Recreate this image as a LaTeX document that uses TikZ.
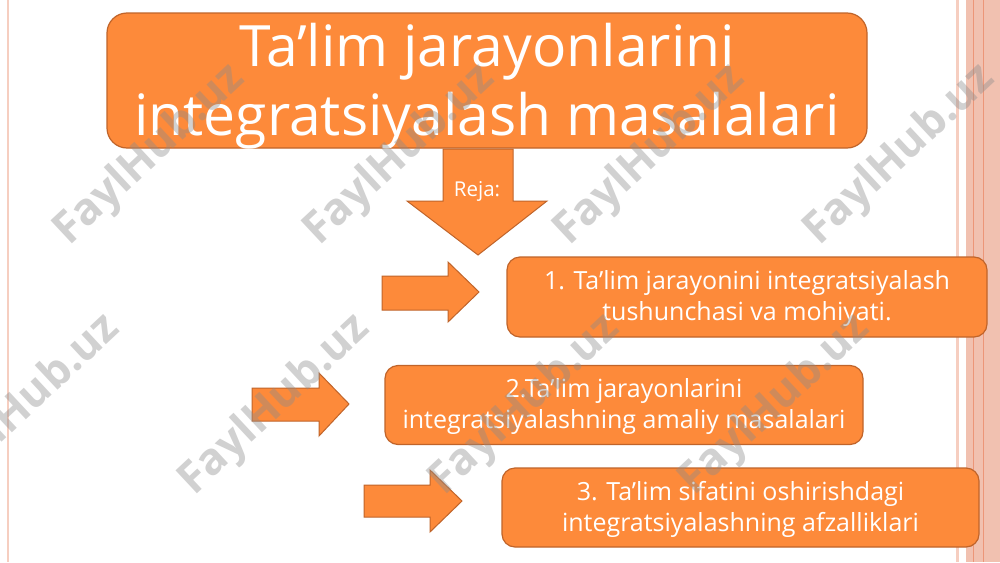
\documentclass[tikz,border=0pt]{standalone}
\usepackage{fontspec}
\setmainfont{Open Sans}
\definecolor{boxfill}{RGB}{253,138,58}
\definecolor{boxedge}{RGB}{192,100,42}
\definecolor{stripfill}{RGB}{241,193,176}
\definecolor{stripline}{RGB}{236,150,120}
\definecolor{lightstrip}{RGB}{246,206,192}
\definecolor{wmark}{RGB}{140,140,140}
\begin{document}
\begin{tikzpicture}[x=1pt,y=-1pt,
  box/.style={draw=boxedge, fill=boxfill, line width=1.2pt, rounded corners=13pt,
    text=white, align=center, inner sep=0pt, font=\fontsize{25}{31}\selectfont},
  blockarrow/.style={draw=boxedge, fill=boxfill, line width=1pt, line join=miter},
  wm/.style={text=wmark, text opacity=0.4, rotate=43, font=\bfseries\fontsize{44}{44}\selectfont, inner sep=0pt}]
\useasboundingbox (0,0) rectangle (1000,562);
\fill[white] (0,0) rectangle (1000,562);
% right decoration strip
\fill[stripfill] (966,0) rectangle (1000,562);
\draw[stripline, line width=0.8pt] (973,0) -- (973,562);
\draw[stripline, line width=0.8pt] (983,0) -- (983,562);
\fill[lightstrip] (956,0) rectangle (959,562);
\fill[lightstrip] (7,0) rectangle (9,562);
% title
\node[box, rounded corners=20pt, minimum width=760pt, minimum height=135pt] (title) at (487,80.5) {};
\node[text=white, align=center, inner sep=0pt, font=\fontsize{57}{69}\selectfont]
  (titletext) at (487,86) {Ta’lim jarayonlarini\\integratsiyalash masalalari};
% down arrow
\draw[blockarrow] (443,149) -- (513,149) -- (513,201) -- (547,201) -- (478,255)
  -- (407,201) -- (443,201) -- cycle;
\node[text=white, font=\fontsize{20.5}{22}\selectfont, inner sep=0pt] (reja) at (477,191) {Reja:};
% right arrows
\draw[blockarrow] (382,276) -- (448,276) -- (448,262) -- (479,292) -- (448,322)
  -- (448,310) -- (382,310) -- cycle;
\draw[blockarrow] (252,388) -- (319,388) -- (319,373) -- (349,404) -- (319,436)
  -- (319,421) -- (252,421) -- cycle;
\draw[blockarrow] (364,485) -- (430,485) -- (430,470) -- (462,501) -- (430,532)
  -- (430,517) -- (364,517) -- cycle;
% boxes
\node[box, minimum width=480pt, minimum height=80pt] (b1) at (747,297) {};
\node[text=white, align=center, inner sep=0pt, font=\fontsize{25}{31}\selectfont]
  (b1text) at (747,299) {1. Ta’lim jarayonini integratsiyalash\\tushunchasi va mohiyati.};
\node[box, minimum width=478pt, minimum height=79pt] (b2) at (624,405) {};
\node[text=white, align=center, inner sep=0pt, font=\fontsize{25}{31}\selectfont]
  (b2text) at (624,406.5) {2.Ta’lim jarayonlarini\\integratsiyalashning amaliy masalalari};
\node[box, minimum width=477pt, minimum height=79pt] (b3) at (740.5,507.5) {};
\node[text=white, align=center, inner sep=0pt, font=\fontsize{25}{31}\selectfont]
  (b3text) at (740.5,509) {3. Ta’lim sifatini oshirishdagi\\integratsiyalashning afzalliklari};
% watermarks
\foreach \i/\x/\y in {1/150/155, 2/400/155, 3/650/155, 4/900/155,
                      5/25/405, 6/275/405, 7/525/405, 8/775/405}
  \node[wm] (wm\i) at (\x,\y) {FaylHub.uz};
\end{tikzpicture}
\end{document}
